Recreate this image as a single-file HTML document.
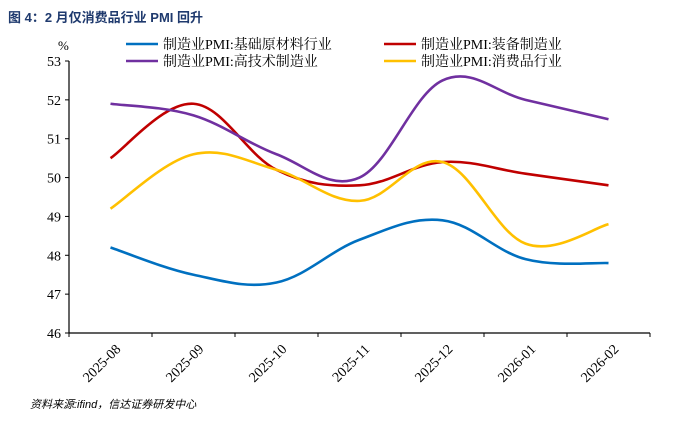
<!DOCTYPE html>
<html><head><meta charset="utf-8"><style>
body{margin:0;background:#fff;}
svg{display:block;font-family:"Liberation Serif","Noto Serif CJK SC",serif;}
</style></head><body>
<svg id="chart" width="675" height="437">
<text x="8" y="22" font-family="Liberation Sans, Noto Sans CJK SC, sans-serif" font-weight="bold" font-size="13" fill="#1f3a6e">图 4：2 月仅消费品行业 PMI 回升</text>
<text x="58" y="50" font-size="13" fill="#000">%</text>
<g id="legend"></g>
<g id="axes"></g>
<g id="series"></g>
<text x="30" y="408" font-size="11" font-style="italic" font-family="Liberation Sans, Noto Sans CJK SC, sans-serif" fill="#000">资料来源:ifind，信达证券研发中心</text>
</svg>
<script>
const categories=["2025-08","2025-09","2025-10","2025-11","2025-12","2026-01","2026-02"];
const yTicks=[46,47,48,49,50,51,52,53];
const seriesNames=["制造业PMI:基础原材料行业","制造业PMI:装备制造业","制造业PMI:高技术制造业","制造业PMI:消费品行业"];
const rawMaterials=[48.2,47.5,47.3,48.4,48.9,47.9,47.8];
const equipment=[50.5,51.9,50.2,49.8,50.4,50.1,49.8];
const hiTech=[51.9,51.6,50.6,50.0,52.5,52.0,51.5];
const consumer=[49.2,50.6,50.2,49.4,50.4,48.3,48.8];
const colors=["#0070c0","#c00000","#7030a0","#ffc000"];
const NS="http://www.w3.org/2000/svg";
const x0=69,x1=650,y0=333,y1=61,yMin=46,yMax=53;
const band=(x1-x0)/categories.length;
const xs=i=>x0+band*(i+0.5);
const ys=v=>y0-(v-yMin)/(yMax-yMin)*(y0-y1);
function mk(t,a,p){const e=document.createElementNS(NS,t);for(const k in a)e.setAttribute(k,a[k]);p.appendChild(e);return e;}
const axes=document.getElementById('axes');
let l=mk('line',{x1:x0,y1:y1,x2:x0,y2:y0,stroke:'#000','stroke-width':1.2},axes);


l=mk('line',{x1:x0,y1:y0,x2:x1,y2:y0,stroke:'#000','stroke-width':1.2},axes);


yTicks.forEach(v=>{
 const y=ys(v);
 mk('line',{x1:x0-4,y1:y,x2:x0,y2:y,stroke:'#000'},axes);
 const t=mk('text',{x:x0-8,y:y+5,'text-anchor':'end','font-size':14},axes);t.textContent=v;
 
 
});
for(let i=0;i<=categories.length;i++){const x=x0+band*i;mk('line',{x1:x,y1:y0,x2:x,y2:y0+4,stroke:'#000'},axes);}
categories.forEach((c,i)=>{
 const x=xs(i)+4,y=y0+10;
 const t=mk('text',{x:x,y:y,'text-anchor':'end','font-size':14,transform:`rotate(-45 ${x} ${y})`,dy:'0.7em'},axes);t.textContent=c;
 
 
});
function smooth(vals){
 const p=vals.map((v,i)=>[xs(i),ys(v)]);
 let d=`M${p[0][0]},${p[0][1]}`;
 for(let i=0;i<p.length-1;i++){
  const a=p[i-1]||p[i],b=p[i],c=p[i+1],e=p[i+2]||c;
  const t=0.18;
  d+=` C${b[0]+(c[0]-a[0])*t},${b[1]+(c[1]-a[1])*t} ${c[0]-(e[0]-b[0])*t},${c[1]-(e[1]-b[1])*t} ${c[0]},${c[1]}`;
 }
 return d;
}
const data=[rawMaterials,equipment,hiTech,consumer];
const sNames=['line-raw-materials','line-equipment','line-hi-tech','line-consumer'];
const sg=document.getElementById('series');
data.forEach((vals,k)=>{
 const p=mk('path',{d:smooth(vals),fill:'none',stroke:colors[k],'stroke-width':2.6},sg);
 
 
});
const lg=document.getElementById('legend');
const lpos=[[126,44],[384,44],[126,61],[384,61]];
seriesNames.forEach((n,k)=>{
 const [x,y]=lpos[k];
 const ln=mk('line',{x1:x,y1:y,x2:x+32,y2:y,stroke:colors[k],'stroke-width':2.6},lg);
 
 
 const t=mk('text',{x:x+37,y:y+5,'font-size':14},lg);t.textContent=n;
 
 
});
</script>
</body></html>
